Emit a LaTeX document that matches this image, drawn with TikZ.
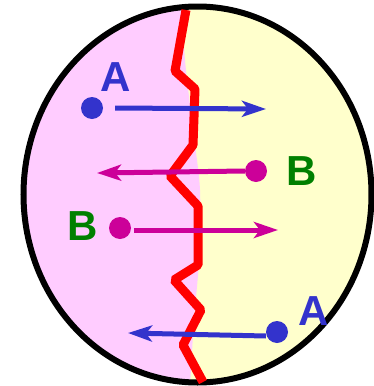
\documentclass[tikz,border=0pt]{standalone}
\usepackage{fontspec}
\setmainfont{Liberation Sans}
\definecolor{pinkside}{RGB}{255, 204, 255}
\definecolor{yellowside}{RGB}{255, 255, 204}
\definecolor{molblue}{RGB}{51, 51, 204}
\definecolor{molmagenta}{RGB}{204, 0, 153}
\definecolor{tagreen}{RGB}{0, 128, 0}
\usetikzlibrary{arrows.meta, shapes.geometric}

\begin{document}
\begin{tikzpicture}[x=1pt, y=-1pt,
    molecule/.style={circle, fill=#1, minimum size=22pt, inner sep=0pt},
    tag/.style={font=\fontsize{42}{42}\selectfont\bfseries, text=#1, anchor=base, inner sep=0pt},
    flux/.style={draw=#1, line width=5pt, -{Stealth[length=24pt, width=16pt, inset=6pt, #1]}}]
    \useasboundingbox (0,0) rectangle (373,386);
    % the two sides of the cell
    \begin{scope}
        \clip (197.5,194.5) ellipse [x radius=174, y radius=188];
        \fill[yellowside] (0,0) rectangle (373,386);
        \fill[pinkside] (0,0) -- (182,0)
            -- plot[smooth] coordinates {(182,0) (185,60) (193,130) (200,190) (199,260) (194,320) (190,386)}
            -- (0,386) -- cycle;
    \end{scope}
    \node[draw, line width=6pt, ellipse, minimum width=348pt, minimum height=376pt, inner sep=0pt] (cell) at (197.5,194.5) {};
    % membrane
    \draw[red, line width=9pt, line join=bevel]
        (186,10) -- (175,71) -- (195,89) -- (193,145) -- (170,176) -- (198,206)
        -- (198,265) -- (174,280) -- (201,310) -- (183,345) -- (203,382);
    % molecules and labels
    \foreach \id/\px/\py/\col in {a1/92/108/molblue, b1/256/171/molmagenta, b2/120/228/molmagenta, a2/277/332/molblue} {
        \node[molecule=\col] (\id) at (\px,\py) {};
    }
    \foreach \id/\px/\py/\txt/\col in {ta1/116/91/A/molblue, tb1/302/185/B/tagreen, tb2/83/240/B/tagreen, ta2/314/325/A/molblue} {
        \node[tag=\col] (\id) at (\px,\py) {\txt};
    }
    \coordinate (a1tip) at (266,109);
    \coordinate (b1tip) at (97,173);
    \coordinate (b2tip) at (278,230);
    \coordinate (a2tip) at (128,333);
    \draw[flux=molblue] ([xshift=12pt]a1.east) -- (a1tip);
    \draw[flux=molmagenta] (b1.west) -- (b1tip);
    \draw[flux=molmagenta] ([xshift=3pt, yshift=-2pt]b2.east) -- (b2tip);
    \draw[flux=molblue] ([yshift=-4pt]a2.west) -- (a2tip);
\end{tikzpicture}
\end{document}
